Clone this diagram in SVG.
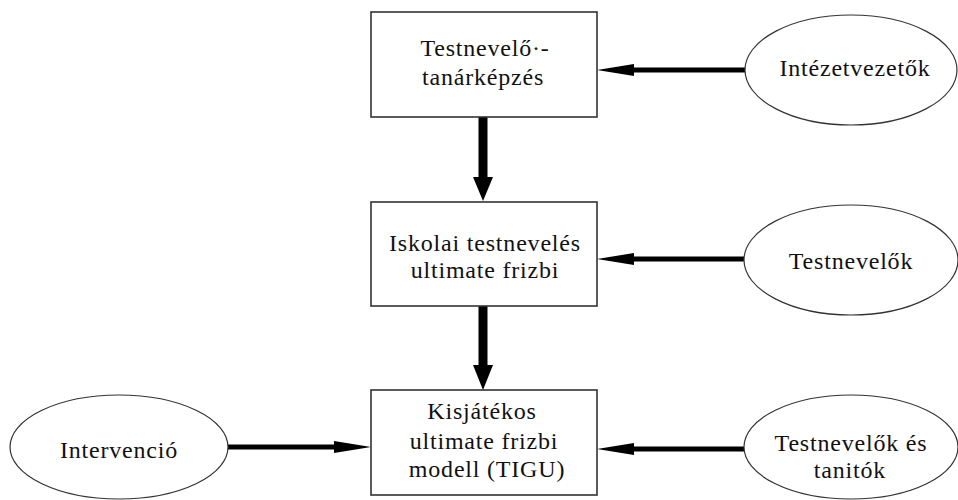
<svg xmlns="http://www.w3.org/2000/svg" width="958" height="500" viewBox="0 0 958 500">
<style>
  .box { fill: #ffffff; stroke: #333333; stroke-width: 1.6; }
  .ell { fill: #ffffff; stroke: #333333; stroke-width: 1.2; }
  .t { font-family: "Liberation Serif", "Times New Roman", serif; font-size: 24px; letter-spacing: 0.8px; fill: #111111; text-anchor: middle; }
  .shaftH { stroke: #000000; stroke-width: 5; fill: none; }
  .shaftV { stroke: #000000; stroke-width: 9; fill: none; }
  .head { fill: #000000; stroke: none; }
</style>
<rect width="958" height="500" fill="#ffffff"/>

<g id="connectors">
  <line class="shaftV" x1="483" y1="117" x2="483" y2="178"/>
  <polygon class="head" points="473,177 493,177 483,201"/>
  <line class="shaftV" x1="483" y1="306" x2="483" y2="366"/>
  <polygon class="head" points="473,365 493,365 483,390"/>
  <line class="shaftH" x1="745" y1="70" x2="632" y2="70"/>
  <polygon class="head" points="597,70 634,64 634,76"/>
  <line class="shaftH" x1="744" y1="259" x2="632" y2="259"/>
  <polygon class="head" points="597,259 634,253 634,265"/>
  <line class="shaftH" x1="744" y1="449" x2="632" y2="449"/>
  <polygon class="head" points="597,449 634,443 634,455"/>
  <line class="shaftH" x1="228" y1="447" x2="336" y2="447"/>
  <polygon class="head" points="371,447 334,441 334,453"/>
</g>

<g id="node-tanarkepzes">
  <rect class="box" x="371" y="12" width="226" height="105"/>
  <text class="t" x="485" y="56">Testnevelő·-</text>
  <text class="t" x="483" y="85">tanárképzés</text>
</g>

<g id="node-iskolai">
  <rect class="box" x="371" y="202" width="226" height="104"/>
  <text class="t" x="485" y="251">Iskolai testnevelés</text>
  <text class="t" x="485" y="278">ultimate frizbi</text>
</g>

<g id="node-tigu">
  <rect class="box" x="371" y="390" width="226" height="105"/>
  <text class="t" x="482" y="419">Kisjátékos</text>
  <text class="t" x="484" y="449">ultimate frizbi</text>
  <text class="t" x="487" y="477">modell (TIGU)</text>
</g>

<g id="node-intezetvezetok">
  <ellipse class="ell" cx="851" cy="70" rx="106" ry="55"/>
  <text class="t" x="855" y="76">Intézetvezetők</text>
</g>

<g id="node-testnevelok">
  <ellipse class="ell" cx="851" cy="260" rx="107" ry="55"/>
  <text class="t" x="851" y="269">Testnevelők</text>
</g>

<g id="node-testnevelok-tanitok">
  <ellipse class="ell" cx="851" cy="447" rx="107" ry="52"/>
  <text class="t" x="851" y="451">Testnevelők és</text>
  <text class="t" x="850" y="478">tanitók</text>
</g>

<g id="node-intervencio">
  <ellipse class="ell" cx="119" cy="447" rx="109" ry="52"/>
  <text class="t" x="119" y="458">Intervenció</text>
</g>
</svg>
